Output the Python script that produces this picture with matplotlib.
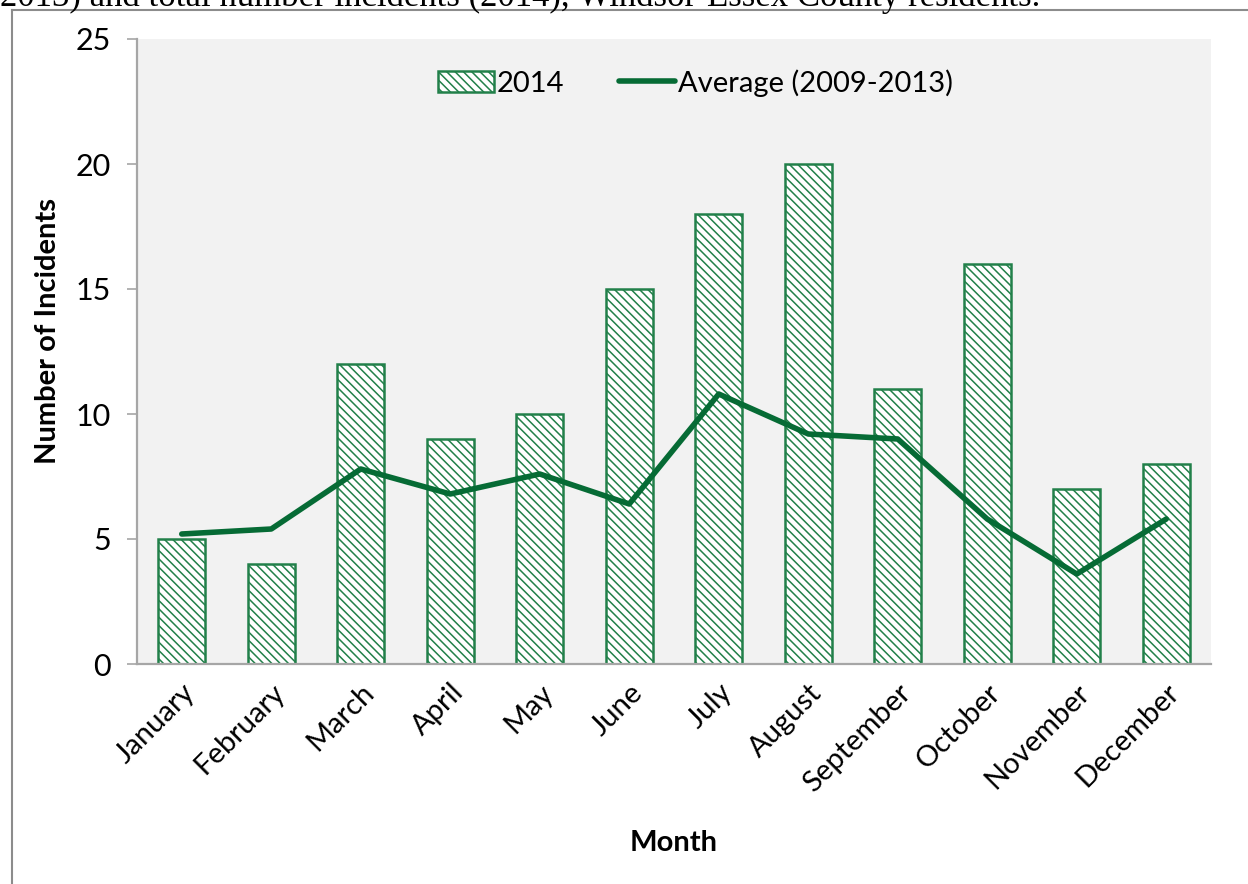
import matplotlib
matplotlib.use("Agg")
import matplotlib.pyplot as plt
from matplotlib.lines import Line2D

months = ["January", "February", "March", "April", "May", "June", "July",
          "August", "September", "October", "November", "December"]
incidents_2014 = [5, 4, 12, 9, 10, 15, 18, 20, 11, 16, 7, 8]
average_2009_2013 = [5.2, 5.4, 7.8, 6.8, 7.6, 6.4, 10.8, 9.2, 9.0, 5.8, 3.6, 5.8]
y_ticks = [0, 5, 10, 15, 20, 25]

caption = "2013) and total number incidents (2014), Windsor-Essex County residents."

W, H, DPI = 1248, 884, 100
plt.rcParams["font.family"] = ["Lato", "DejaVu Sans"]
plt.rcParams["hatch.linewidth"] = 1.1

bar_green = "#22804A"
line_green = "#066B35"
axis_gray = "#A6A6A6"

fig = plt.figure(figsize=(W / DPI, H / DPI), dpi=DPI)
fig.patch.set_facecolor("white")

def fx(px):
    return px / W

def fy(py):
    return 1 - py / H

ax = fig.add_axes([fx(137), fy(664), fx(1211) - fx(137), fy(39) - fy(664)])
ax.set_facecolor("#F2F2F2")

x = list(range(len(months)))
bars = ax.bar(x, incidents_2014, width=0.52, color="white", edgecolor=bar_green,
              linewidth=1.8, hatch="\\\\\\\\", label="2014", zorder=2)
line, = ax.plot(x, average_2009_2013, color=line_green, linewidth=4.0,
                solid_capstyle="round", solid_joinstyle="round",
                label="Average (2009-2013)", zorder=3)

ax.set_xlim(-0.5, len(months) - 0.5)
ax.set_ylim(0, 25)
ax.set_yticks(y_ticks)
ax.tick_params(axis="y", direction="out", length=7, width=1.2, color=axis_gray,
               labelsize=22, pad=12)
ax.tick_params(axis="x", length=0, labelsize=21, pad=11)
ax.set_xticks(x)
ax.set_xticklabels(months, rotation=45, ha="right", rotation_mode="anchor")

for side in ("top", "right"):
    ax.spines[side].set_visible(False)
for side in ("left", "bottom"):
    ax.spines[side].set_color(axis_gray)
    ax.spines[side].set_linewidth(1.6)

ax.set_ylabel("Number of Incidents", fontsize=21, fontweight="bold",
              va="center")
ax.yaxis.set_label_coords(-0.083, 0.533)
ax.set_xlabel("Month", fontsize=21, fontweight="bold", labelpad=24)

ax.legend(handles=[bars, line], loc="center", bbox_to_anchor=(0.52, 0.93),
          ncol=2, frameon=False, fontsize=21, handlelength=1.9,
          handleheight=0.7, handletextpad=0.1, columnspacing=1.9)

# outer frame around the chart
fig.add_artist(Line2D([fx(11.5), fx(11.5)], [fy(10), 0], color="#8C8C8C",
                      linewidth=1.5, transform=fig.transFigure))
fig.add_artist(Line2D([fx(11.5), 1], [fy(10), fy(10)], color="#8C8C8C",
                      linewidth=1.5, transform=fig.transFigure))

fig.text(0, fy(6), caption, family="Liberation Serif", fontsize=25,
         ha="left", va="baseline", color="black")

fig.savefig("out.png", dpi=DPI)
